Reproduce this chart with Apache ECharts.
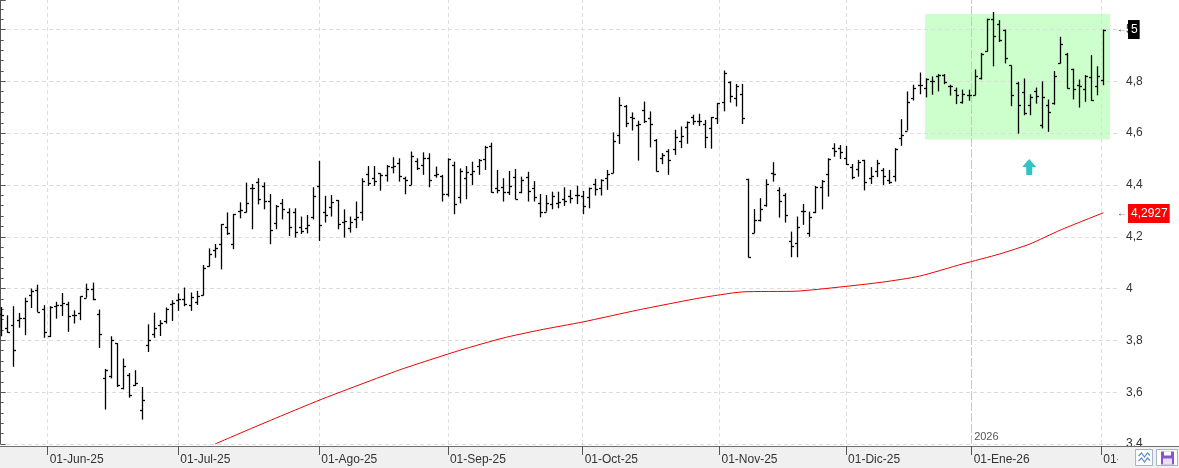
<!DOCTYPE html>
<html>
<head>
<meta charset="utf-8">
<title>Cotización diaria</title>
<script src="https://cdn.jsdelivr.net/npm/echarts@6.0.0/dist/echarts.min.js"></script>
<style>
    html, body { margin: 0; padding: 0; background: #fff; }
    #chart { width: 1179px; height: 468px; }
</style>
</head>
<body>
<div id="chart"></div>
<script>
const FONT = 'Liberation Sans';

// una barra por sesion, indice 0 = 21-May-25, ultimo = 02-Feb-26
const open = [
    3.900, 3.846, 3.858, 3.878, 3.888, 3.974, 3.994, 3.923, 3.817, 3.932,
    3.936, 3.942, 3.897, 3.907, 3.965, 3.997, 3.903, 3.656, 3.662, 3.788,
    3.618, 3.668, 3.629, 3.533, 3.784, 3.826, 3.858, 3.875, 3.942, 3.955,
    3.961, 3.936, 3.950, 3.975, 4.087, 4.149, 4.171, 4.237, 4.171, 4.301,
    4.294, 4.390, 4.410, 4.396, 4.338, 4.255, 4.332, 4.294, 4.297, 4.237,
    4.233, 4.278, 4.396, 4.297, 4.316, 4.342, 4.258, 4.233, 4.267, 4.297,
    4.442, 4.426, 4.445, 4.439, 4.470, 4.484, 4.426, 4.400, 4.493, 4.477,
    4.503, 4.439, 4.435, 4.365, 4.477, 4.355, 4.426, 4.441, 4.473, 4.499,
    4.551, 4.387, 4.394, 4.374, 4.430, 4.374, 4.432, 4.387, 4.332, 4.297,
    4.327, 4.332, 4.345, 4.358, 4.362, 4.358, 4.352, 4.404, 4.390, 4.426,
    4.446, 4.594, 4.703, 4.662, 4.632, 4.688, 4.658, 4.574, 4.503, 4.533,
    4.538, 4.570, 4.622, 4.664, 4.645, 4.635, 4.619, 4.658, 4.720, 4.796,
    4.735, 4.751, 4.424, 4.214, 4.265, 4.322, 4.445, 4.381, 4.361, 4.184,
    4.175, 4.300, 4.213, 4.297, 4.394, 4.441, 4.542, 4.542, 4.503, 4.468,
    4.460, 4.497, 4.426, 4.452, 4.458, 4.420, 4.433, 4.581, 4.610, 4.735,
    4.787, 4.774, 4.800, 4.822, 4.826, 4.783, 4.768, 4.721, 4.746, 4.749,
    4.811, 4.918, 5.042, 5.023, 5.000, 4.862, 4.794, 4.759, 4.708, 4.763,
    4.631, 4.708, 4.717, 4.871, 4.907, 4.849, 4.785, 4.772, 4.815, 4.781,
    4.804
];
const close = [
    3.897, 3.833, 3.764, 3.888, 3.951, 3.990, 3.910, 3.833, 3.929, 3.938,
    3.946, 3.893, 3.897, 3.970, 4.000, 3.960, 3.824, 3.685, 3.800, 3.629,
    3.700, 3.588, 3.636, 3.571, 3.803, 3.846, 3.867, 3.923, 3.945, 3.959,
    3.940, 3.968, 3.971, 4.078, 4.132, 4.155, 4.248, 4.216, 4.287, 4.303,
    4.329, 4.388, 4.345, 4.338, 4.226, 4.319, 4.306, 4.239, 4.220, 4.222,
    4.246, 4.358, 4.246, 4.284, 4.336, 4.248, 4.260, 4.258, 4.275, 4.417,
    4.409, 4.417, 4.439, 4.473, 4.473, 4.435, 4.419, 4.512, 4.464, 4.503,
    4.419, 4.441, 4.365, 4.500, 4.327, 4.455, 4.449, 4.455, 4.497, 4.545,
    4.374, 4.381, 4.374, 4.396, 4.345, 4.419, 4.377, 4.355, 4.297, 4.332,
    4.358, 4.336, 4.338, 4.351, 4.363, 4.319, 4.388, 4.384, 4.420, 4.443,
    4.570, 4.709, 4.641, 4.658, 4.635, 4.645, 4.635, 4.455, 4.516, 4.497,
    4.585, 4.590, 4.642, 4.645, 4.648, 4.585, 4.662, 4.716, 4.832, 4.744,
    4.783, 4.658, 4.120, 4.265, 4.307, 4.404, 4.442, 4.338, 4.284, 4.164,
    4.236, 4.300, 4.275, 4.391, 4.415, 4.499, 4.533, 4.529, 4.480, 4.430,
    4.490, 4.413, 4.435, 4.484, 4.433, 4.410, 4.540, 4.594, 4.722, 4.774,
    4.787, 4.810, 4.800, 4.826, 4.796, 4.783, 4.749, 4.750, 4.749, 4.820,
    4.905, 5.042, 4.974, 4.961, 4.892, 4.746, 4.708, 4.676, 4.740, 4.743,
    4.740, 4.682, 4.820, 4.946, 4.775, 4.772, 4.781, 4.820, 4.727, 4.820,
    5.000
];
const low = [
    3.816, 3.829, 3.698, 3.849, 3.820, 3.925, 3.910, 3.810, 3.813, 3.884,
    3.894, 3.833, 3.865, 3.878, 3.965, 3.955, 3.771, 3.533, 3.653, 3.620,
    3.611, 3.579, 3.624, 3.494, 3.755, 3.810, 3.817, 3.865, 3.875, 3.914,
    3.932, 3.914, 3.937, 3.973, 4.085, 4.119, 4.074, 4.207, 4.152, 4.271,
    4.294, 4.229, 4.325, 4.306, 4.171, 4.229, 4.267, 4.203, 4.197, 4.211,
    4.213, 4.267, 4.184, 4.255, 4.278, 4.229, 4.197, 4.216, 4.233, 4.262,
    4.396, 4.396, 4.378, 4.413, 4.445, 4.413, 4.364, 4.400, 4.458, 4.439,
    4.391, 4.428, 4.336, 4.355, 4.287, 4.329, 4.345, 4.400, 4.439, 4.458,
    4.370, 4.368, 4.336, 4.361, 4.345, 4.368, 4.336, 4.336, 4.275, 4.297,
    4.306, 4.310, 4.319, 4.329, 4.326, 4.287, 4.310, 4.359, 4.359, 4.381,
    4.446, 4.558, 4.623, 4.610, 4.494, 4.639, 4.545, 4.452, 4.480, 4.439,
    4.516, 4.542, 4.559, 4.632, 4.628, 4.542, 4.540, 4.635, 4.684, 4.718,
    4.703, 4.635, 4.120, 4.214, 4.259, 4.316, 4.413, 4.274, 4.255, 4.121,
    4.121, 4.246, 4.200, 4.291, 4.306, 4.355, 4.509, 4.500, 4.477, 4.422,
    4.432, 4.379, 4.404, 4.430, 4.400, 4.404, 4.413, 4.551, 4.610, 4.726,
    4.750, 4.738, 4.748, 4.761, 4.789, 4.745, 4.712, 4.714, 4.725, 4.746,
    4.807, 4.914, 4.858, 4.952, 4.869, 4.704, 4.598, 4.669, 4.669, 4.714,
    4.618, 4.605, 4.710, 4.869, 4.772, 4.730, 4.699, 4.721, 4.725, 4.746,
    4.785
];
const high = [
    3.929, 3.897, 3.932, 3.906, 3.965, 4.000, 4.015, 3.936, 3.932, 3.949,
    3.983, 3.949, 3.916, 3.970, 4.019, 4.023, 3.919, 3.690, 3.816, 3.790,
    3.730, 3.674, 3.685, 3.620, 3.862, 3.907, 3.878, 3.927, 3.955, 3.981,
    4.004, 3.985, 3.991, 4.091, 4.155, 4.172, 4.249, 4.294, 4.288, 4.333,
    4.409, 4.404, 4.426, 4.410, 4.365, 4.323, 4.346, 4.310, 4.310, 4.278,
    4.284, 4.391, 4.493, 4.358, 4.361, 4.342, 4.306, 4.278, 4.336, 4.426,
    4.473, 4.473, 4.445, 4.477, 4.507, 4.503, 4.432, 4.529, 4.503, 4.526,
    4.522, 4.471, 4.439, 4.503, 4.490, 4.464, 4.473, 4.490, 4.500, 4.551,
    4.563, 4.458, 4.426, 4.454, 4.462, 4.432, 4.451, 4.415, 4.365, 4.361,
    4.374, 4.374, 4.391, 4.381, 4.397, 4.377, 4.390, 4.424, 4.422, 4.458,
    4.603, 4.739, 4.709, 4.680, 4.648, 4.722, 4.684, 4.577, 4.523, 4.538,
    4.613, 4.626, 4.645, 4.671, 4.675, 4.651, 4.662, 4.716, 4.842, 4.800,
    4.790, 4.790, 4.424, 4.307, 4.349, 4.422, 4.488, 4.391, 4.368, 4.220,
    4.278, 4.327, 4.297, 4.396, 4.419, 4.503, 4.561, 4.554, 4.551, 4.481,
    4.497, 4.497, 4.469, 4.497, 4.465, 4.458, 4.542, 4.654, 4.761, 4.787,
    4.834, 4.812, 4.819, 4.828, 4.828, 4.787, 4.776, 4.768, 4.768, 4.846,
    4.910, 5.042, 5.068, 5.036, 5.000, 4.862, 4.798, 4.811, 4.750, 4.776,
    4.800, 4.730, 4.840, 4.972, 4.910, 4.849, 4.807, 4.824, 4.901, 4.858,
    5.000
];

// media movil (leida a tramos)
const maIdx = [35, 41, 52, 65, 75, 82, 88, 95, 104, 114, 121, 130, 137, 144, 150, 157, 163, 168, 173, 180];
const maVal = [3.400, 3.461, 3.569, 3.685, 3.762, 3.809, 3.840, 3.871, 3.917, 3.963,
    3.987, 3.990, 4.006, 4.025, 4.048, 4.095, 4.133, 4.172, 4.226, 4.2927];

// inicio de mes en indice de sesion (fraccion si el dia 1 no cotiza)
const monthPos = [7.667, 29, 52, 73, 95, 117.333, 138, 158.5, 179.667];
const monthLabels = ['01-Jun-25', '01-Jul-25', '01-Ago-25', '01-Sep-25', '01-Oct-25',
    '01-Nov-25', '01-Dic-25', '01-Ene-26', '01-Feb-26'];
const yearPos = 158.5;
const yearLabel = '2026';

const zoneX = [150.9, 181.1];
const zoneY = [4.575, 5.06];
const signal = [167.9, 4.469];

const lastClose = close[close.length - 1];
const lastMa = maVal[maVal.length - 1];

function fmtPrice(v) {
    return String(+v.toFixed(4)).replace('.', ',');
}

function renderOhlc(params, api) {
    let i = api.value(0);
    let o = api.coord([i, api.value(1)]);
    let c = api.coord([i, api.value(2)]);
    let l = api.coord([i, api.value(3)]);
    let h = api.coord([i, api.value(4)]);
    let x = Math.round(h[0]) + 0.5;
    let oy = Math.round(o[1]) + 0.5;
    let cy = Math.round(c[1]) + 0.5;
    let st = {stroke: '#000', lineWidth: 1.3};
    return {
        type: 'group',
        children: [
            {type: 'line', shape: {x1: x, y1: h[1], x2: x, y2: l[1]}, style: st},
            {type: 'line', shape: {x1: x - 2.5, y1: oy, x2: x, y2: oy}, style: st},
            {type: 'line', shape: {x1: x, y1: cy, x2: x + 2.5, y2: cy}, style: st}
        ]
    };
}

function priceTag(value, bg) {
    return {
        yAxis: value,
        lineStyle: {color: 'rgba(0,0,0,0)', width: 0, opacity: 1},
        label: {
            show: true,
            opacity: 1,
            position: 'end',
            distance: 0,
            formatter: '{a|←}{b|' + fmtPrice(value) + '}',
            rich: {
                a: {color: '#444', fontSize: 10, fontFamily: FONT, padding: [0, 1, 0, 0]},
                b: {color: '#fff', backgroundColor: bg, fontSize: 12, fontFamily: FONT, padding: [4, 2, 3, 3]}
            }
        }
    };
}

let ohlcData = open.map(function (o, i) {
    return [i, o, close[i], low[i], high[i]];
});

let monthLines = monthPos.map(function (p) {
    return {
        xAxis: p,
        lineStyle: p === yearPos
            ? {color: '#c8c8c8', type: [9, 2], width: 1}
            : {color: '#dedede', type: [4, 3], width: 1}
    };
});

let myChart = echarts.init(document.getElementById('chart'));

let option = {
    animation: false,
    grid: {left: 0, right: 62, top: 0, bottom: 24},
    xAxis: {
        type: 'value',
        min: -0.113,
        max: 182.23,
        offset: 2,
        axisLine: {show: true, lineStyle: {color: '#6e6e6e'}},
        axisTick: {show: true, customValues: monthPos, length: 9, lineStyle: {color: '#555'}},
        axisLabel: {
            customValues: monthPos,
            align: 'left',
            margin: 8,
            padding: [0, 0, 0, 2],
            color: '#333',
            fontSize: 12,
            fontFamily: FONT,
            formatter: function (v) {
                let k = monthPos.findIndex(function (p) { return Math.abs(p - v) < 1e-3; });
                return k >= 0 ? monthLabels[k] : '';
            }
        },
        splitLine: {show: false}
    },
    yAxis: {
        type: 'value',
        position: 'right',
        min: 3.4,
        max: 5.114,
        interval: 0.2,
        axisLine: {show: true, lineStyle: {color: '#555'}},
        axisTick: {show: true, length: 5, lineStyle: {color: '#555'}},
        minorTick: {show: true, splitNumber: 5, length: 3, lineStyle: {color: '#555'}},
        axisLabel: {
            margin: 9,
            color: '#333',
            fontSize: 12,
            fontFamily: FONT,
            formatter: function (v) {
                if (Math.abs(v * 5 - Math.round(v * 5)) > 1e-6) {
                    return '';
                }
                return String(+v.toFixed(1)).replace('.', ',');
            }
        },
        splitLine: {show: true, showMaxLine: false, lineStyle: {color: '#dcdcdc', type: [4, 3]}}
    },
    series: [
        {
            name: 'zona',
            type: 'line',
            data: [],
            z: -1,
            silent: true,
            markArea: {
                silent: true,
                z: -1,
                itemStyle: {color: '#ccffcc'},
                data: [[{coord: [zoneX[0], zoneY[1]]}, {coord: [zoneX[1], zoneY[0]]}]]
            }
        },
        {
            name: 'media',
            type: 'line',
            z: 2,
            data: maIdx.map(function (x, k) { return [x, maVal[k]]; }),
            showSymbol: false,
            smooth: 0.2,
            lineStyle: {color: '#ee0000', width: 1},
            markLine: {
                silent: true,
                z: 1,
                symbol: 'none',
                label: {show: false},
                data: monthLines
            }
        },
        {
            name: 'precio',
            type: 'custom',
            z: 3,
            clip: false,
            renderItem: renderOhlc,
            encode: {x: 0, y: [1, 2, 3, 4]},
            data: ohlcData,
            markLine: {
                silent: true,
                z: 6,
                symbol: 'none',
                data: [priceTag(lastClose, '#000'), priceTag(lastMa, '#ff0000')]
            },
            markPoint: {
                silent: true,
                data: [
                    {
                        coord: signal,
                        symbol: 'path://M7,0 L14,8 L10,8 L10,16 L4,16 L4,8 L0,8 Z',
                        symbolSize: [14, 16],
                        itemStyle: {color: '#33c3c3'},
                        label: {show: false}
                    },
                    {
                        coord: [yearPos, 3.4],
                        symbol: 'circle',
                        symbolSize: 1,
                        itemStyle: {color: 'rgba(0,0,0,0)'},
                        label: {
                            show: true, position: 'right', distance: 2, offset: [0, -7],
                            formatter: yearLabel, color: '#555', fontSize: 11, fontFamily: FONT
                        }
                    }
                ]
            }
        }
    ],
    graphic: [
        {type: 'rect', z: -5, silent: true, shape: {x: 0, y: 446, width: 1179, height: 22}, style: {fill: '#f0f0f0'}},
        {type: 'rect', z: 90, silent: true, shape: {x: 1118, y: 447, width: 61, height: 21}, style: {fill: '#f0f0f0'}},
        {type: 'line', z: 91, silent: true, shape: {x1: 1117, y1: 446.5, x2: 1179, y2: 446.5}, style: {stroke: '#6e6e6e', lineWidth: 1}},
        {type: 'rect', z: 92, silent: true, shape: {x: 1135.5, y: 449.5, width: 17, height: 16}, style: {fill: '#fff', stroke: '#a7b4c2'}},
        {type: 'polyline', z: 93, silent: true, shape: {points: [[1138.5, 456], [1141.5, 453], [1144.5, 457], [1147.5, 453], [1150, 455.5]]}, style: {stroke: '#5a8ec6', lineWidth: 1.2, fill: null}},
        {type: 'polyline', z: 93, silent: true, shape: {points: [[1138.5, 461], [1141.5, 458], [1144.5, 462], [1147.5, 458], [1150, 460.5]]}, style: {stroke: '#5a8ec6', lineWidth: 1.2, fill: null}},
        {type: 'rect', z: 92, silent: true, shape: {x: 1156.5, y: 449.5, width: 21, height: 16}, style: {fill: '#fff', stroke: '#a7b4c2'}},
        {type: 'rect', z: 93, silent: true, shape: {x: 1161, y: 451.5, width: 13, height: 13}, style: {fill: '#8a52cc'}},
        {type: 'rect', z: 94, silent: true, shape: {x: 1164, y: 451.5, width: 7, height: 4}, style: {fill: '#fff'}},
        {type: 'rect', z: 94, silent: true, shape: {x: 1163, y: 458.5, width: 9, height: 6}, style: {fill: '#e9e0f6'}}
    ]
};

myChart.setOption(option);
</script>
</body>
</html>
